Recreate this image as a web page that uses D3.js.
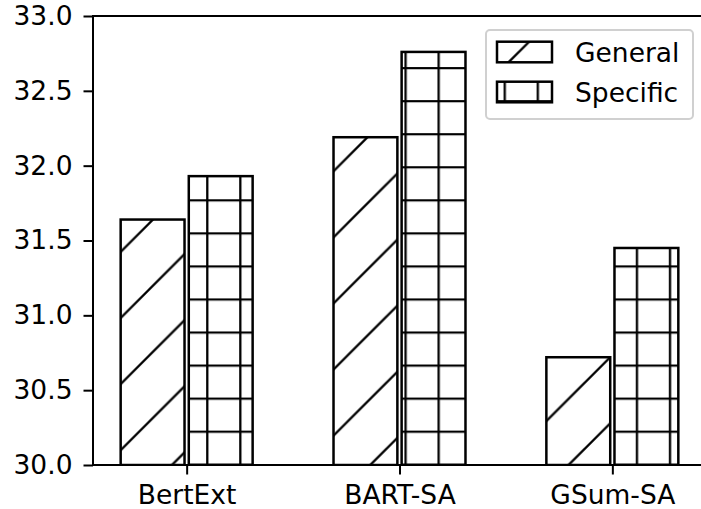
<!DOCTYPE html>
<html>
<head>
<meta charset="utf-8">
<script src="https://cdn.jsdelivr.net/npm/d3@7/dist/d3.min.js"></script>
<style>
  html, body { margin: 0; padding: 0; background: #fff; }
  svg { display: block; }
  text { font-family: "DejaVu Sans", sans-serif; fill: #000; }
</style>
</head>
<body>
<svg id="chart" width="701" height="509"></svg>
<script>
// ROUGE scores per model, general vs. specific setting
const models = ["BertExt", "BART-SA", "GSum-SA"];
const generalScores = [31.64, 32.19, 30.72];
const specificScores = [31.93, 32.76, 31.45];
const seriesNames = ["General", "Specific"];
const yTicks = [30.0, 30.5, 31.0, 31.5, 32.0, 32.5, 33.0];

const W = 701, H = 509;
const plot = { left: 93, right: 706, top: 16, bottom: 465 };
const fontSize = 26.5;
const barWidth = 0.3, barGap = 0.01;

const svg = d3.select("#chart");

const x = d3.scaleLinear().domain([-0.44, 2.44]).range([plot.left, plot.right]);
const y = d3.scaleLinear().domain([30, 33]).range([plot.bottom, plot.top]);

// Hatch patterns anchored to the canvas
const defs = svg.append("defs");
const diagP = 66.1, gridP = 33.05;
const diag = defs.append("pattern")
  .attr("id", "hatch-diag").attr("patternUnits", "userSpaceOnUse")
  .attr("width", diagP).attr("height", diagP);
diag.append("rect").attr("width", diagP).attr("height", diagP).attr("fill", "#fff");
[42 - diagP, 42, 42 + diagP].forEach(c => {
  diag.append("path")
    .attr("d", `M${c + 6},-6 L-6,${c + 6}`)
    .attr("stroke", "#000").attr("stroke-width", 2.3).attr("fill", "none");
});
const grid = defs.append("pattern")
  .attr("id", "hatch-grid").attr("patternUnits", "userSpaceOnUse")
  .attr("width", gridP).attr("height", gridP);
grid.append("rect").attr("width", gridP).attr("height", gridP).attr("fill", "#fff");
grid.append("path").attr("d", `M-2,2.1 L${gridP + 2},2.1`)
  .attr("stroke", "#000").attr("stroke-width", 2.3);
grid.append("path").attr("d", `M9,-2 L9,${gridP + 2}`)
  .attr("stroke", "#000").attr("stroke-width", 2.3);

const fills = ["url(#hatch-diag)", "url(#hatch-grid)"];

// Bars
const clip = defs.append("clipPath").attr("id", "plot-clip");
clip.append("rect").attr("x", plot.left).attr("y", plot.top)
  .attr("width", plot.right - plot.left).attr("height", plot.bottom - plot.top);

const barsG = svg.append("g").attr("clip-path", "url(#plot-clip)");
[generalScores, specificScores].forEach((vals, s) => {
  barsG.selectAll(null)
    .data(vals)
    .enter()
    .append("rect")
    .attr("x", (d, i) => s === 0 ? x(i - barGap - barWidth) : x(i + barGap))
    .attr("width", x(barWidth) - x(0))
    .attr("y", d => y(d))
    .attr("height", d => y(30) - y(d))
    .attr("fill", fills[s])
    .attr("stroke", "#000")
    .attr("stroke-width", 2.5);
});

// Axes
const yAxis = d3.axisLeft(y).tickValues(yTicks).tickFormat(d3.format(".1f"))
  .tickSize(9.5).tickPadding(11);
const gy = svg.append("g").attr("transform", `translate(${plot.left},0)`).call(yAxis);

const xAxis = d3.axisBottom(x).tickValues(d3.range(models.length))
  .tickFormat(i => models[i]).tickSize(9.5).tickPadding(11);
const gx = svg.append("g").attr("transform", `translate(0,${plot.bottom})`).call(xAxis);

[gx, gy].forEach(g => {
  g.select(".domain").remove();
  g.selectAll(".tick line").attr("stroke", "#000").attr("stroke-width", 2);
  g.selectAll(".tick text").style("font-size", fontSize + "px")
    .style("font-family", '"DejaVu Sans", sans-serif').attr("fill", "#000");
});

// Spines
const spines = svg.append("g").attr("stroke", "#000").attr("stroke-width", 2)
  .attr("fill", "none").attr("stroke-linecap", "square");
spines.append("line").attr("x1", plot.left).attr("x2", plot.left).attr("y1", plot.top).attr("y2", plot.bottom);
spines.append("line").attr("x1", plot.right).attr("x2", plot.right).attr("y1", plot.top).attr("y2", plot.bottom);
spines.append("line").attr("x1", plot.left).attr("x2", plot.right).attr("y1", plot.top).attr("y2", plot.top);
spines.append("line").attr("x1", plot.left).attr("x2", plot.right).attr("y1", plot.bottom).attr("y2", plot.bottom);

// Legend
const legend = svg.append("g");
legend.append("rect")
  .attr("x", 486).attr("y", 30).attr("width", 207).attr("height", 89)
  .attr("rx", 4).attr("ry", 4)
  .attr("fill", "#fff").attr("fill-opacity", 0.8)
  .attr("stroke", "#d0d0d0").attr("stroke-width", 2);
seriesNames.forEach((name, s) => {
  const cy = 52 + s * 40;
  legend.append("rect")
    .attr("x", 497).attr("y", cy - 10.3).attr("width", 55).attr("height", 20.6)
    .attr("fill", fills[s]).attr("stroke", "#000").attr("stroke-width", 2.5);
  legend.append("text")
    .attr("x", 575).attr("y", cy)
    .attr("dy", "0.36em")
    .style("font-size", fontSize + "px")
    .text(name);
});
</script>
</body>
</html>
